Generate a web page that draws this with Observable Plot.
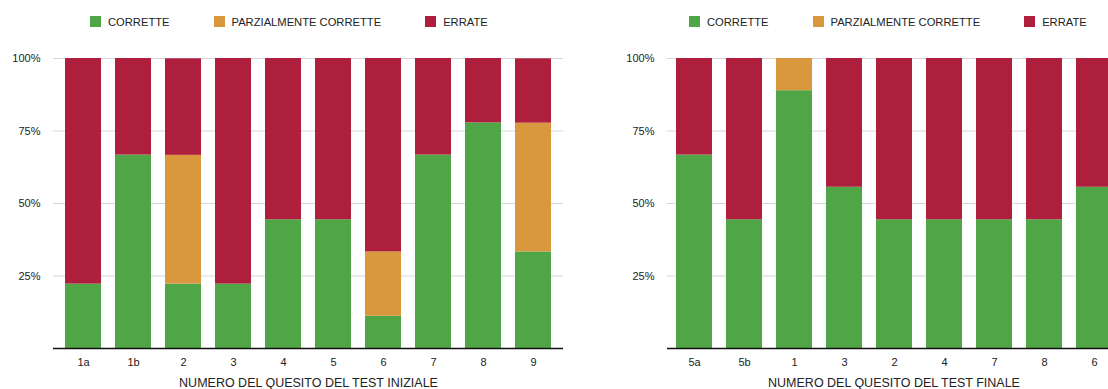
<!DOCTYPE html>
<html>
<head>
<meta charset="utf-8">
<script src="https://cdn.jsdelivr.net/npm/d3@7"></script>
<script src="https://cdn.jsdelivr.net/npm/@observablehq/plot@0.6"></script>
<style>
  html, body { margin: 0; padding: 0; background: #fff; overflow: hidden; width: 1108px; height: 389px; }
  body { font-family: "Liberation Sans", Arial, Helvetica, sans-serif; color: #222; }
  #wrap { display: flex; width: 1130px; }
  .panel { position: relative; flex: none; }
  .legend { height: 40px; display: flex; align-items: center; font-size: 11.2px; box-sizing: border-box; padding-top: 3px; }
  .legend .item { display: flex; align-items: center; margin-right: 44px; }
  .legend .sw { width: 11px; height: 11px; margin-right: 7px; }
  svg { display: block; overflow: visible; }
</style>
</head>
<body>
<div id="wrap">
  <div class="panel" id="left"></div>
  <div class="panel" id="right"></div>
</div>
<script>
// ---- data (percent of answers) ----
const categories = ["CORRETTE", "PARZIALMENTE CORRETTE", "ERRATE"];
const colors = ["#50a646", "#d9973e", "#ae1f3e"];

const initialQuestions = ["1a", "1b", "2", "3", "4", "5", "6", "7", "8", "9"];
const initialCorrect   = [22.2, 66.7, 22.2, 22.2, 44.4, 44.4, 11.1, 66.7, 77.8, 33.3];
const initialPartial   = [0, 0, 44.4, 0, 0, 0, 22.2, 0, 0, 44.4];
const initialWrong     = [77.8, 33.3, 33.3, 77.8, 55.6, 55.6, 66.7, 33.3, 22.2, 22.2];

const finalQuestions = ["5a", "5b", "1", "3", "2", "4", "7", "8", "6"];
const finalCorrect   = [66.7, 44.4, 88.9, 55.6, 44.4, 44.4, 44.4, 44.4, 55.6];
const finalPartial   = [0, 0, 11.1, 0, 0, 0, 0, 0, 0];
const finalWrong     = [33.3, 55.6, 0, 44.4, 55.6, 55.6, 55.6, 55.6, 44.4];

const yTicks = [25, 50, 75, 100];

function rows(qs, c, p, w) {
  const out = [];
  qs.forEach((q, i) => {
    out.push({q, cat: categories[0], v: c[i]});
    out.push({q, cat: categories[1], v: p[i]});
    out.push({q, cat: categories[2], v: w[i]});
  });
  return out;
}

function legend(padLeft) {
  const d = document.createElement("div");
  d.className = "legend";
  d.style.paddingLeft = padLeft + "px";
  categories.forEach((c, i) => {
    const it = document.createElement("div");
    it.className = "item";
    const sw = document.createElement("div");
    sw.className = "sw";
    sw.style.background = colors[i];
    const t = document.createElement("span");
    t.textContent = c;
    it.appendChild(sw); it.appendChild(t);
    d.appendChild(it);
  });
  return d;
}

function chart(qs, data, title, opts) {
  return Plot.plot({
    width: opts.width,
    height: 349,
    marginTop: 18,
    marginBottom: 41,
    marginLeft: opts.marginLeft,
    marginRight: opts.marginRight,
    style: {fontFamily: "Liberation Sans, Arial, Helvetica, sans-serif", fontSize: "11px", color: "#222", background: "white"},
    x: {domain: qs, paddingInner: 0.29, paddingOuter: 0.165, label: null},
    y: {domain: [0, 100], label: null},
    color: {domain: categories, range: colors},
    marks: [
      Plot.ruleY(yTicks, {stroke: "#d6d6d6", strokeWidth: 1}),
      Plot.barY(data, {x: "q", y: "v", fill: "cat", order: categories}),
      Plot.ruleY([0], {stroke: "#111", strokeWidth: 1.5}),
      Plot.axisY(yTicks, {tickSize: 0, tickPadding: 13, tickFormat: d => d + "%", label: null, fontSize: 11}),
      Plot.axisX({tickSize: 0, tickPadding: 10, fontSize: 11, label: null}),
      Plot.axisX([], {tickSize: 0, fontSize: 12.5, label: title, labelAnchor: "center", labelOffset: 38, labelArrow: "none"})
    ]
  });
}

const L = document.getElementById("left");
L.appendChild(legend(90));
L.appendChild(chart(initialQuestions, rows(initialQuestions, initialCorrect, initialPartial, initialWrong),
  "NUMERO DEL QUESITO DEL TEST INIZIALE", {width: 600, marginLeft: 53, marginRight: 37}));

const R = document.getElementById("right");
R.appendChild(legend(89));
R.appendChild(chart(finalQuestions, rows(finalQuestions, finalCorrect, finalPartial, finalWrong),
  "NUMERO DEL QUESITO DEL TEST FINALE", {width: 525, marginLeft: 67, marginRight: 5}));
</script>
</body>
</html>
